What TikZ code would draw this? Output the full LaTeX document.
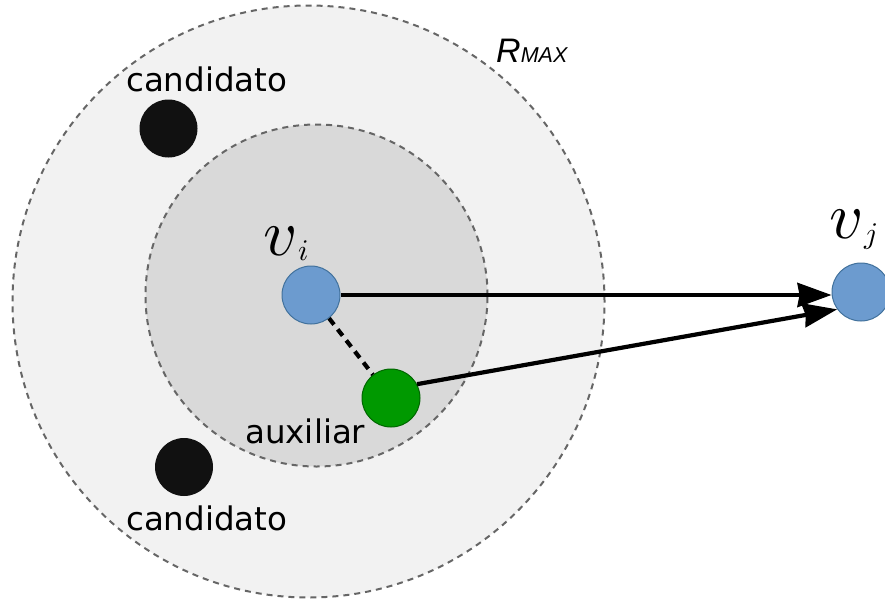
\documentclass[tikz,border=0pt]{standalone}
\usepackage{fontspec}
\usetikzlibrary{arrows.meta}
\newfontfamily\labelfont{DejaVu Sans}
\newfontfamily\rmaxfont{Liberation Sans}
\definecolor{outerfill}{HTML}{F2F2F2}
\definecolor{innerfill}{HTML}{D9D9D9}
\definecolor{ringline}{HTML}{666666}
\definecolor{bluefill}{HTML}{6C9BCF}
\definecolor{blueline}{HTML}{41719C}
\definecolor{greenfill}{HTML}{009900}
\definecolor{greenline}{HTML}{006600}
\definecolor{candfill}{HTML}{111111}
\tikzset{
  ring/.style={circle, draw=ringline, line width=2pt, dash pattern=on 6pt off 5pt, inner sep=0pt},
  vertex/.style={circle, minimum size=58pt, inner sep=0pt, line width=1pt},
  sanslabel/.style={inner sep=0pt, anchor=base west, font=\labelfont\fontsize{32.5}{32.5}\selectfont},
  mathlabel/.style={inner sep=0pt, anchor=base west},
  link/.style={line width=4.2pt, black},
  arrowlink/.style={link, -{Stealth[length=34pt, width=24pt, inset=2pt]}},
}
\begin{document}
\begin{tikzpicture}[x=1pt, y=-1pt]
\useasboundingbox (0,0) rectangle (885,603);
\node[ring, fill=outerfill, minimum size=592pt] (outer) at (308.5,301.5) {};
\node[ring, fill=innerfill, minimum size=342pt] (inner) at (316.5,295.5) {};

\node[vertex, fill=bluefill, draw=blueline] (vi) at (311,295) {};
\node[vertex, fill=bluefill, draw=blueline] (vj) at (861,292) {};
\node[vertex, fill=greenfill, draw=greenline] (aux) at (391,398) {};
\node[vertex, fill=candfill] (c1) at (168.5,128.5) {};
\node[vertex, fill=candfill] (c2) at (184,467) {};

\node[sanslabel] (c1lbl) at (126,91) {candidato};
\node[sanslabel] (c2lbl) at (126,530) {candidato};
\node[sanslabel] (auxlbl) at (245,443.5) {auxiliar};
\node[mathlabel] (rmax) at (496,62) {\rmaxfont\itshape\fontsize{34}{34}\selectfont R\fontsize{21.5}{21.5}\selectfont MAX};

\node[mathlabel] (vilbl) at (263,255) {\scalebox{6.6}{$v$}\kern0.5pt\raisebox{-5pt}{\scalebox{3}{$i$}}};
\node[mathlabel] (vjlbl) at (829,238) {\scalebox{6.6}{$v$}\kern0.5pt\raisebox{-5pt}{\scalebox{3}{$j$}}};

\draw[link, dash pattern=on 8pt off 6pt] (vi) -- (aux);
\draw[arrowlink] (vi.east) -- (vi.east -| vj.west);
\draw[arrowlink] (aux.28) -- (vj.216);
\end{tikzpicture}
\end{document}
